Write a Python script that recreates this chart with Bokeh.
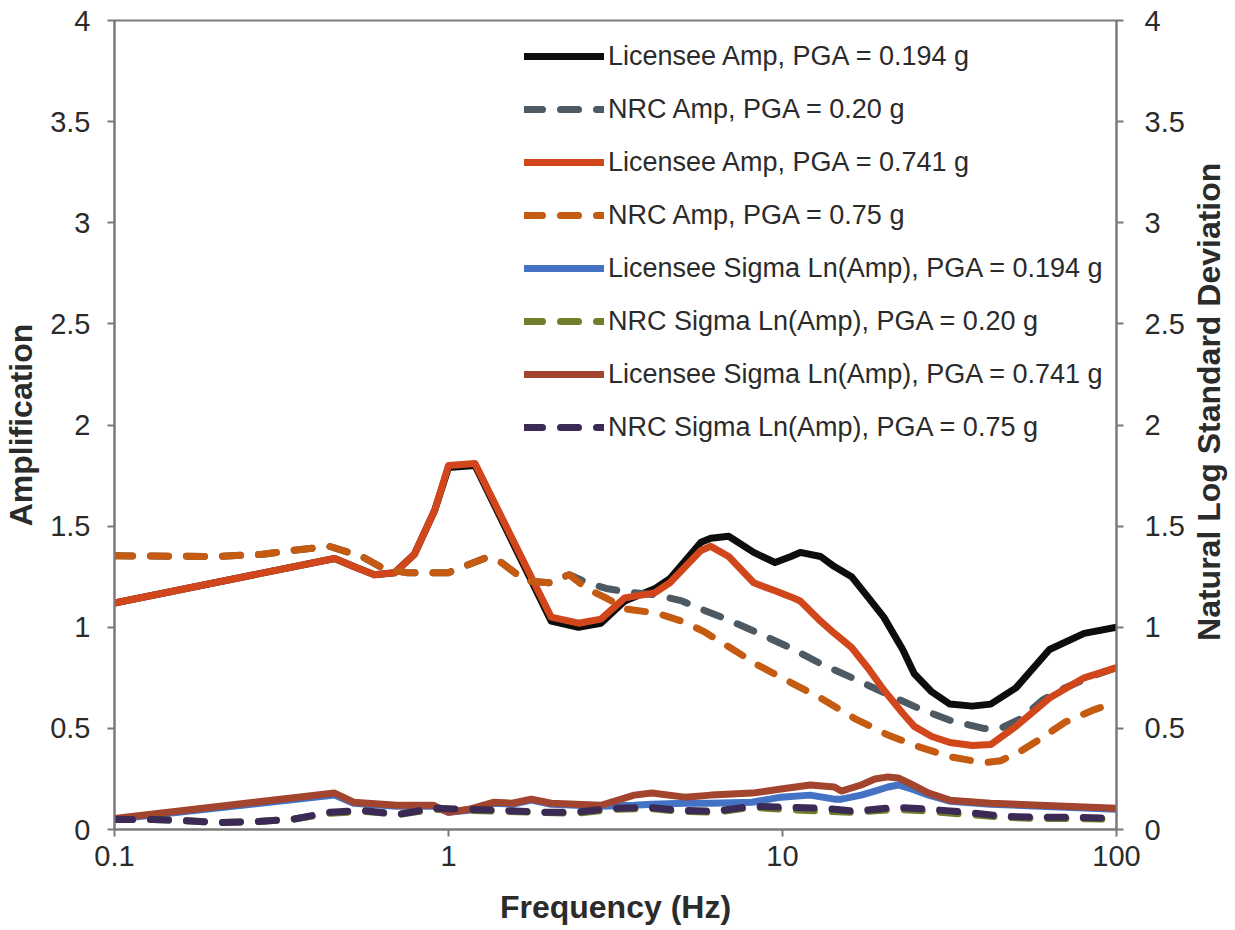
import math
from bokeh.plotting import figure
from bokeh.layouts import row
from bokeh.models import (Range1d, LinearAxis, FixedTicker, CustomJSTickFormatter,
                          Legend, LegendItem)
from bokeh.core.properties import value
from bokeh.embed import file_html
from bokeh.resources import INLINE

# ---------------- data ----------------
freq_lic_amp = [0.1, 0.456, 0.52, 0.6, 0.69, 0.79, 0.91, 1.0, 1.2, 2.03, 2.45, 2.86,
                3.37, 4.14, 4.6, 5.7, 6.1, 6.9, 8.2, 9.5, 10.6, 11.3, 13.0, 14.3,
                16.1, 18.0, 20.1, 22.9, 24.8, 28.0, 31.7, 37.0, 42.0, 50.0, 63.0, 80.0, 100.0]
lic_amp_194 = [1.12, 1.34, 1.30, 1.26, 1.27, 1.36, 1.58, 1.79, 1.80, 1.03, 1.00, 1.02,
               1.13, 1.19, 1.24, 1.42, 1.44, 1.45, 1.37, 1.32, 1.35, 1.37, 1.35, 1.30,
               1.25, 1.15, 1.05, 0.89, 0.77, 0.68, 0.62, 0.61, 0.62, 0.70, 0.89, 0.97, 1.00]
lic_amp_741 = [1.12, 1.34, 1.30, 1.26, 1.27, 1.36, 1.58, 1.80, 1.81, 1.05, 1.02, 1.04,
               1.145, 1.17, 1.22, 1.38, 1.40, 1.35, 1.22, 1.18, 1.15, 1.13, 1.03, 0.97,
               0.90, 0.80, 0.69, 0.575, 0.51, 0.46, 0.43, 0.415, 0.42, 0.51, 0.65, 0.75, 0.80]

freq_nrc_amp = [0.1, 0.2, 0.275, 0.34, 0.44, 0.55, 0.64, 0.75, 0.87, 1.0, 1.11, 1.3,
                1.44, 1.7, 2.0, 2.3, 2.6, 3.0, 3.4, 4.2, 5.0, 5.8, 6.8, 8.5, 10.5,
                13.0, 16.4, 20.5, 25.5, 31.7, 40.0, 45.0, 52.0, 60.0, 70.0, 85.0, 100.0]
nrc_amp_020 = [1.353, 1.35, 1.36, 1.38, 1.40, 1.35, 1.29, 1.27, 1.27, 1.27, 1.30, 1.345,
               1.32, 1.23, 1.22, 1.26, 1.22, 1.19, 1.175, 1.16, 1.13, 1.085, 1.04, 0.97, 0.90,
               0.82, 0.745, 0.67, 0.60, 0.54, 0.50, 0.50, 0.55, 0.64, 0.70, 0.76, 0.80]
nrc_amp_075 = [1.353, 1.35, 1.36, 1.38, 1.40, 1.35, 1.29, 1.27, 1.27, 1.27, 1.30, 1.345,
               1.32, 1.23, 1.22, 1.26, 1.19, 1.14, 1.09, 1.07, 1.03, 0.98, 0.91, 0.81, 0.73,
               0.65, 0.55, 0.47, 0.41, 0.36, 0.33, 0.34, 0.39, 0.455, 0.53, 0.59, 0.63]

freq_lic_sig = [0.1, 0.456, 0.52, 0.7, 0.9, 1.0, 1.15, 1.37, 1.55, 1.77,
                2.03, 2.86, 3.6, 4.06, 5.1, 6.1, 8.1, 9.9, 12.1, 14.3,
                15.0, 17.2, 18.9, 20.7, 22.2, 23.9, 27.4, 31.7, 42.0, 59.0, 100.0]
lic_sig_194 = [0.05, 0.17, 0.13, 0.115, 0.115, 0.085, 0.095, 0.13, 0.125, 0.145,
               0.125, 0.115, 0.12, 0.125, 0.13, 0.13, 0.135, 0.16, 0.17, 0.15,
               0.15, 0.17, 0.19, 0.21, 0.22, 0.205, 0.17, 0.14, 0.125, 0.115, 0.10]
lic_sig_741 = [0.055, 0.18, 0.135, 0.12, 0.12, 0.085, 0.10, 0.135, 0.13, 0.15,
               0.13, 0.12, 0.17, 0.18, 0.16, 0.17, 0.18, 0.20, 0.22, 0.21,
               0.19, 0.22, 0.25, 0.26, 0.255, 0.23, 0.18, 0.145, 0.13, 0.12, 0.105]

freq_nrc_sig = [0.1, 0.13, 0.21, 0.27, 0.34, 0.44, 0.55, 0.71, 0.9,
                1.44, 1.9, 2.4, 3.1, 3.95, 4.9, 6.3, 8.1, 10.1,
                13.3, 16.5, 22.0, 27.5, 35.5, 46.0, 58.0, 74.0, 100.0]
nrc_sig_020 = [0.05, 0.05, 0.035, 0.04, 0.05, 0.08, 0.09, 0.075, 0.10,
               0.09, 0.085, 0.08, 0.10, 0.105, 0.09, 0.085, 0.11, 0.10,
               0.09, 0.085, 0.10, 0.09, 0.075, 0.06, 0.055, 0.055, 0.05]
nrc_sig_075 = [0.05, 0.05, 0.035, 0.04, 0.05, 0.085, 0.095, 0.075, 0.105,
               0.095, 0.085, 0.085, 0.105, 0.11, 0.095, 0.09, 0.115, 0.11,
               0.105, 0.09, 0.11, 0.10, 0.085, 0.065, 0.06, 0.06, 0.055]

series_labels = ["Licensee Amp, PGA = 0.194 g",
                 "NRC Amp, PGA = 0.20 g",
                 "Licensee Amp, PGA = 0.741 g",
                 "NRC Amp, PGA = 0.75 g",
                 "Licensee Sigma Ln(Amp), PGA = 0.194 g",
                 "NRC Sigma Ln(Amp), PGA = 0.20 g",
                 "Licensee Sigma Ln(Amp), PGA = 0.741 g",
                 "NRC Sigma Ln(Amp), PGA = 0.75 g"]

x_ticks = [0.1, 1, 10, 100]
y_ticks = [0, 0.5, 1, 1.5, 2, 2.5, 3, 3.5, 4]

x_title = "Frequency (Hz)"
y_title = "Amplification"
y2_title = "Natural Log Standard Deviation"

# ---------------- main figure ----------------
FONT = "Liberation Sans"
AXIS_COLOR = "#7a7a7a"
TEXT_COLOR = "#2b2b2b"
PAGE_H = 926

p = figure(frame_width=1002, frame_height=809,
           min_border_left=113, min_border_right=72,
           min_border_top=20, min_border_bottom=PAGE_H - 20 - 809,
           x_axis_type="log", x_range=Range1d(0.1, 100), y_range=Range1d(0, 4),
           output_backend="svg", toolbar_location=None, tools="")
p.background_fill_color = "white"
p.border_fill_color = "white"
p.outline_line_color = AXIS_COLOR
p.outline_line_width = 2
p.xgrid.visible = False
p.ygrid.visible = False

right_axis = LinearAxis()
p.add_layout(right_axis, "right")

for ax in [p.xaxis[0], p.yaxis[0], right_axis]:
    ax.axis_line_color = AXIS_COLOR
    ax.axis_line_width = 2
    ax.major_tick_line_color = AXIS_COLOR
    ax.major_tick_line_width = 2
    ax.major_tick_in = 0
    ax.major_tick_out = 7
    ax.minor_tick_line_color = None
    ax.major_label_text_font = FONT
    ax.major_label_text_font_size = "29px"
    ax.major_label_text_color = TEXT_COLOR
    ax.axis_label_text_font = FONT
    ax.axis_label_text_font_size = "32px"
    ax.axis_label_text_font_style = "bold"
    ax.axis_label_text_color = TEXT_COLOR
    ax.formatter = CustomJSTickFormatter(code="return String(tick);")

p.xaxis[0].ticker = FixedTicker(ticks=x_ticks, minor_ticks=[])
p.xaxis[0].major_label_standoff = 9
p.xaxis[0].axis_label = x_title
p.xaxis[0].axis_label_standoff = 20

p.yaxis[0].ticker = FixedTicker(ticks=y_ticks, minor_ticks=[])
p.yaxis[0].major_label_standoff = 17
p.yaxis[0].axis_label = y_title
p.yaxis[0].axis_label_standoff = 8

right_axis.ticker = FixedTicker(ticks=y_ticks, minor_ticks=[])
right_axis.major_label_standoff = 21

# ---------------- lines ----------------
LW = 7
DASH = "18 18"
specs = [
    (freq_lic_amp, lic_amp_194, "#0d0d0d", "solid"),
    (freq_nrc_amp, nrc_amp_020, "#4d5a63", DASH),
    (freq_lic_amp, lic_amp_741, "#d2461c", "solid"),
    (freq_nrc_amp, nrc_amp_075, "#c55a11", DASH),
    (freq_lic_sig, lic_sig_194, "#4472c4", "solid"),
    (freq_nrc_sig, nrc_sig_020, "#6f7f2b", DASH),
    (freq_lic_sig, lic_sig_741, "#a3452e", "solid"),
    (freq_nrc_sig, nrc_sig_075, "#3b2a55", DASH),
]
items = []
for (xs, ys, color, dash), label in zip(specs, series_labels):
    r = p.line(xs, ys, line_color=color, line_width=LW, line_dash=dash,
               line_cap="round", line_join="round")
    items.append(LegendItem(label=label, renderers=[r]))

legend = Legend(items=items, location=(410, 386))
legend.padding = 0
legend.margin = 0
legend.border_line_alpha = 0
legend.background_fill_alpha = 0
legend.label_text_font = FONT
legend.label_text_font_size = "27px"
legend.label_text_color = TEXT_COLOR
legend.glyph_width = 80
legend.glyph_height = 32
legend.label_height = 32
legend.spacing = 21
legend.label_standoff = 4
p.add_layout(legend)

# ---------------- right-hand title strip (reads bottom-to-top) ----------------
TITLE_W = 40
pt = figure(width=TITLE_W, height=PAGE_H, min_border=0,
            x_range=Range1d(0, 1), y_range=Range1d(0, PAGE_H),
            output_backend="svg", toolbar_location=None, tools="")
pt.axis.visible = False
pt.xgrid.visible = False
pt.ygrid.visible = False
pt.outline_line_color = None
pt.background_fill_color = "white"
pt.border_fill_color = "white"
pt.text(x=[0.5], y=[PAGE_H - 437], text=[y2_title], angle=math.pi / 2,
        text_align="center", text_baseline="middle",
        text_font=value(FONT), text_font_size="32px", text_font_style="bold",
        text_color=TEXT_COLOR)

layout = row(p, pt)
open("out.html", "w").write(file_html(layout, INLINE))
